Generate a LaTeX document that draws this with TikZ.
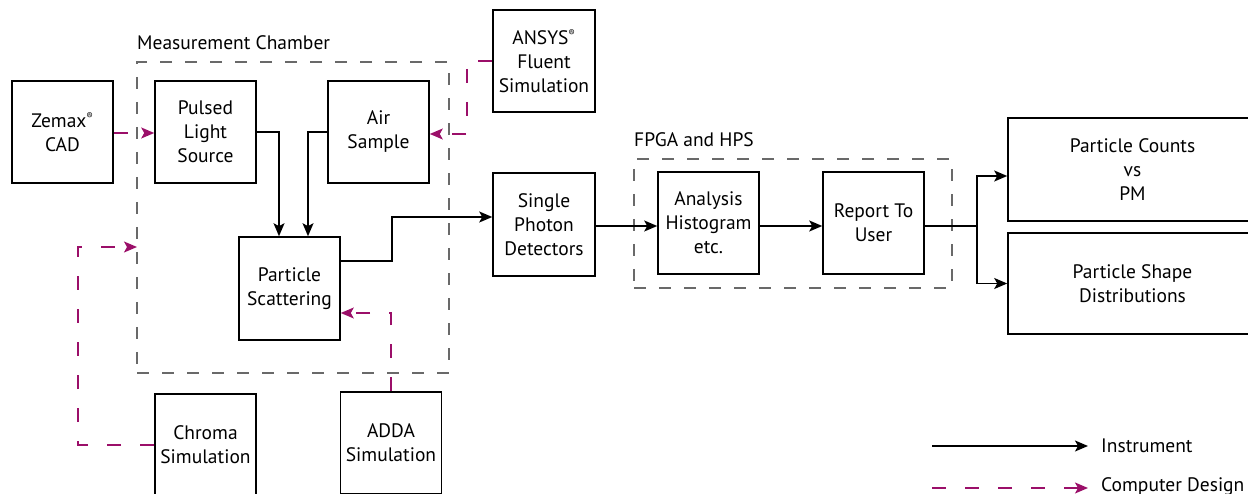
\documentclass[tikz,border=0pt]{standalone}
\usepackage{fontspec}
\setmainfont{PT Sans}
\usetikzlibrary{arrows.meta,calc}
\definecolor{mag}{RGB}{155,15,105}
\definecolor{dgray}{RGB}{105,105,105}
\begin{document}
\begin{tikzpicture}[x=1pt,y=-1pt,
 font=\fontsize{19.5}{24}\selectfont,
 box/.style={draw,line width=1.6pt,minimum width=101pt,minimum height=102pt,align=center,inner sep=0pt},
 tipk/.style={-{Stealth[length=13pt,width=11pt,inset=3pt]}},
 inst/.style={line width=1.5pt,tipk},
 cd/.style={mag,line width=1.5pt,dash pattern=on 14pt off 19pt,tipk},
 grp/.style={draw=dgray,line width=1.3pt,dash pattern=on 12pt off 13pt,inner sep=0pt},
 reg/.style={inner sep=0pt,font=\fontsize{19.5}{20}\selectfont}]
\useasboundingbox (0,0) rectangle (1248,494);
\clip (0,0) rectangle (1248,494);
% group frames
\node[grp,minimum width=312pt,minimum height=311pt] (mc) at (293,217.5) {};
\node[grp,minimum width=318pt,minimum height=129pt] (fpga) at (793,223.5) {};
\node[reg,anchor=base west] (mclab) at (137,50) {Measurement Chamber};
\node[reg,anchor=base west] (fplab) at (634,147) {FPGA and HPS};
% boxes
\node[box] (zem) at (62.5,132) {Zemax\textsuperscript{\fontsize{9.5}{9.5}\selectfont ®}\\CAD};
\node[box] (pls) at (205.5,132) {Pulsed\\Light\\Source};
\node[box] (air) at (378.5,132) {Air\\Sample};
\node[box,minimum height=103pt] (ps) at (289.5,288.5) {Particle\\Scattering};
\node[box] (chr) at (205.5,445) {Chroma\\Simulation};
\node[box] (adda) at (391,443) {ADDA\\Simulation};
\node[box,minimum width=102pt] (ans) at (544,61) {ANSYS\textsuperscript{\fontsize{9.5}{9.5}\selectfont ®}\\Fluent\\Simulation};
\node[box,minimum width=102pt,minimum height=103pt] (spd) at (544,224.5) {Single\\Photon\\Detectors};
\node[box] (an) at (708.5,223) {Analysis\\Histogram\\etc.};
\node[box] (rep) at (873.5,223) {Report To\\User};
\node[box,minimum width=249pt,minimum height=103pt] (cnt) at (1132.5,169.5) {Particle Counts\\vs\\PM};
\node[box,minimum width=249pt,minimum height=101pt] (shp) at (1132.5,283.5) {Particle Shape\\Distributions};
% instrument connectors
\draw[inst] (pls.east) -| ($(ps.north)+(-10.5,0)$);
\draw[inst] (air.west) -| ($(ps.north)+(18.5,0)$);
\draw[inst] ($(ps.east)+(0,-27.5)$) -- ++(51,0) |- ($(spd.west)+(0,-7.5)$);
\draw[inst] ($(spd.east)+(0,1.5)$) -- ($(an.west)+(0,3)$);
\draw[inst] ($(an.east)+(0,3)$) -- ($(rep.west)+(0,3)$);
\coordinate (split) at (977,226);
\draw[line width=1.5pt] ($(rep.east)+(0,3)$) -- (split);
\draw[inst] (split) |- ($(cnt.west)+(0,6.5)$);
\draw[inst] (split) |- (shp.west);
% computer design connectors
\draw[cd] ($(zem.east)+(0,1)$) -- ($(pls.west)+(0,1)$);
\draw[cd] (ans.west) -- ++(-25,0) |- ($(air.east)+(0,2)$);
\coordinate (cin) at (137,247);
\draw[cd] (chr.west) -- ++(-76,0) |- (cin);
\draw[cd] (adda.north) |- ($(ps.east)+(0,24.5)$);
% legend
\node[reg,anchor=base west] (lin) at (1101,452) {Instrument};
\node[reg,anchor=base west] (lcd) at (1101,491) {Computer Design};
\coordinate (l1) at (932,446);
\coordinate (l2) at (932,488);
\draw[inst] (l1) -- (l1 -| 1088,0);
\draw[cd] (l2) -- (l2 -| 1088,0);
\end{tikzpicture}
\end{document}
